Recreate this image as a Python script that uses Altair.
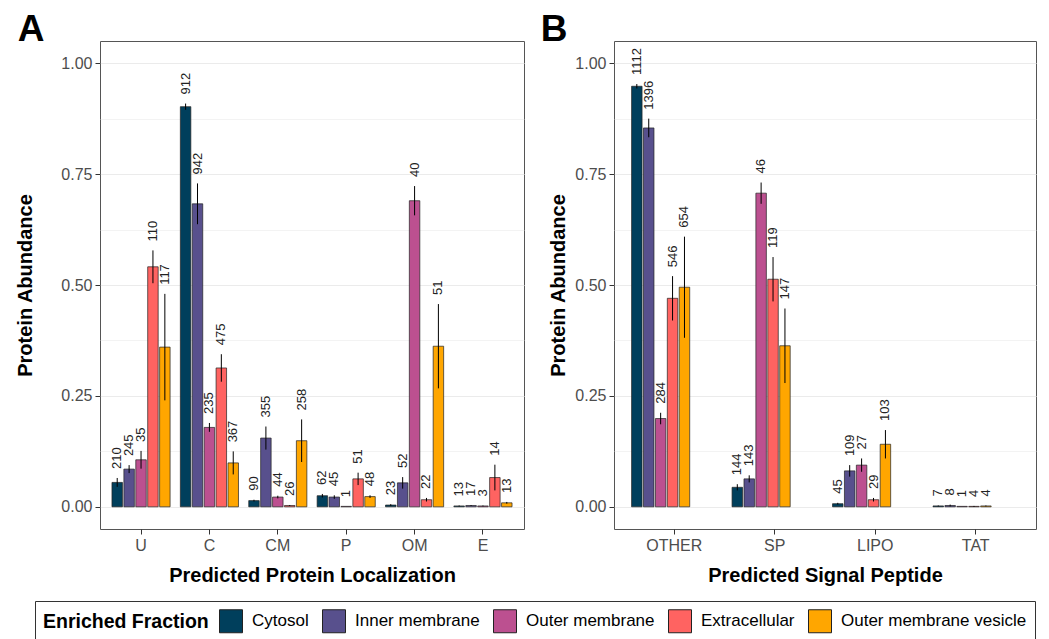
import altair as alt
import pandas as pd

fractions = ["Cytosol", "Inner membrane", "Outer membrane", "Extracellular", "Outer membrane vesicle"]
colors = ["#003f5c", "#58508d", "#bc5090", "#ff6361", "#ffa600"]

# ---- Panel A: predicted protein localization ----
loc_cats = ["U", "C", "CM", "P", "OM", "E"]
loc_cytosol = [0.055, 0.902, 0.014, 0.025, 0.004, 0.002]
loc_cytosol_err = [0.010, 0.007, 0.002, 0.004, 0.002, 0.001]
loc_inner = [0.085, 0.683, 0.155, 0.022, 0.054, 0.003]
loc_inner_err = [0.009, 0.046, 0.026, 0.004, 0.013, 0.001]
loc_outer = [0.106, 0.179, 0.022, 0.001, 0.690, 0.002]
loc_outer_err = [0.020, 0.010, 0.003, 0.000, 0.033, 0.001]
loc_extra = [0.541, 0.313, 0.003, 0.063, 0.016, 0.066]
loc_extra_err = [0.037, 0.031, 0.001, 0.014, 0.004, 0.029]
loc_omv = [0.360, 0.099, 0.149, 0.023, 0.362, 0.009]
loc_omv_err = [0.120, 0.026, 0.048, 0.003, 0.095, 0.002]
loc_n_cytosol = [210, 912, 90, 62, 23, 13]
loc_n_inner = [245, 942, 355, 45, 52, 17]
loc_n_outer = [35, 235, 44, 1, 40, 3]
loc_n_extra = [110, 475, 26, 51, 22, 14]
loc_n_omv = [117, 367, 258, 48, 51, 13]

# ---- Panel B: predicted signal peptide ----
sig_cats = ["OTHER", "SP", "LIPO", "TAT"]
sig_cytosol = [0.948, 0.044, 0.007, 0.002]
sig_cytosol_err = [0.005, 0.007, 0.002, 0.001]
sig_inner = [0.854, 0.063, 0.081, 0.003]
sig_inner_err = [0.021, 0.008, 0.013, 0.002]
sig_outer = [0.199, 0.707, 0.094, 0.001]
sig_outer_err = [0.013, 0.024, 0.015, 0.000]
sig_extra = [0.470, 0.513, 0.016, 0.001]
sig_extra_err = [0.050, 0.050, 0.004, 0.001]
sig_omv = [0.495, 0.363, 0.141, 0.002]
sig_omv_err = [0.114, 0.084, 0.032, 0.001]
sig_n_cytosol = [1112, 144, 45, 7]
sig_n_inner = [1396, 143, 109, 8]
sig_n_outer = [284, 46, 27, 1]
sig_n_extra = [546, 119, 29, 4]
sig_n_omv = [654, 147, 103, 4]

y_ticks = [0, 0.125, 0.25, 0.375, 0.5, 0.625, 0.75, 0.875, 1.0]


def build(cats, means, errs, ns):
    rows = []
    for f, m, e, n in zip(fractions, means, errs, ns):
        for c, mv, ev, nv in zip(cats, m, e, n):
            rows.append({"cat": c, "frac": f, "mean": mv, "lo": max(mv - ev, 0), "hi": mv + ev, "n": nv})
    return pd.DataFrame(rows)


df_a = build(loc_cats,
             [loc_cytosol, loc_inner, loc_outer, loc_extra, loc_omv],
             [loc_cytosol_err, loc_inner_err, loc_outer_err, loc_extra_err, loc_omv_err],
             [loc_n_cytosol, loc_n_inner, loc_n_outer, loc_n_extra, loc_n_omv])
df_b = build(sig_cats,
             [sig_cytosol, sig_inner, sig_outer, sig_extra, sig_omv],
             [sig_cytosol_err, sig_inner_err, sig_outer_err, sig_extra_err, sig_omv_err],
             [sig_n_cytosol, sig_n_inner, sig_n_outer, sig_n_extra, sig_n_omv])

minor_test = "round(datum.value * 8) % 2 == 1"
yscale = alt.Scale(domain=[-0.05, 1.05], nice=False, zero=False)


def yaxis(title_pad):
    return alt.Axis(
        title="Protein Abundance",
        values=y_ticks,
        labelExpr="round(datum.value * 8) % 2 == 1 ? '' : format(datum.value, '.2f')",
        gridWidth={"condition": {"test": minor_test, "value": 0.6}, "value": 1.2},
        tickOpacity={"condition": {"test": minor_test, "value": 0}, "value": 1},
        titlePadding=title_pad, labelPadding=3,
    )


legend = alt.Legend(
    title="Enriched Fraction", orient="none", legendX=-65, legendY=560,
    direction="horizontal", titleOrient="left",
    titleFontSize=19.5, titleFontWeight="bold", titleColor="black",
    titleBaseline="middle", titleAnchor="middle",
    labelFontSize=17, labelColor="black", labelLimit=0,
    symbolType="square", symbolSize=529,
    symbolStrokeColor="#222222", symbolStrokeWidth=1,
    strokeColor="#333333", padding=8,
    columnPadding=11, labelOffset=9, titlePadding=10,
)


def panel(df, cats, xtitle, tag, width, title_pad, tag_dx):
    base = alt.Chart(df).encode(
        x=alt.X("cat:N", sort=cats,
                scale=alt.Scale(paddingInner=0.15, paddingOuter=0.175),
                axis=alt.Axis(title=xtitle, labelAngle=0, bandPosition=0.5,
                              labelPadding=3, titlePadding=12, gridWidth=1.2)),
        xOffset=alt.XOffset("frac:N", sort=fractions, scale=alt.Scale(paddingInner=0.12)),
    )
    bars = base.mark_bar(stroke="#222222", strokeWidth=0.7).encode(
        y=alt.Y("mean:Q", scale=yscale, axis=yaxis(title_pad)),
        y2=alt.datum(0),
        color=alt.Color("frac:N", sort=fractions,
                        scale=alt.Scale(domain=fractions, range=colors),
                        legend=legend),
    )
    err = base.mark_rule(color="black", strokeWidth=1).encode(
        y=alt.Y("lo:Q", scale=yscale), y2="hi:Q")
    text = base.mark_text(angle=270, align="left", baseline="middle", dx=9,
                          fontSize=13, color="#222222").encode(
        y=alt.Y("hi:Q", scale=yscale), text="n:Q")
    return alt.layer(bars, err, text).properties(
        width=width, height=488,
        title=alt.Title(tag, anchor="start", frame="bounds", fontSize=37,
                        fontWeight="bold", color="black", offset=-8, dx=tag_dx),
    )


chart = alt.hconcat(
    panel(df_a, loc_cats, "Predicted Protein Localization", "A", 424, 25, 2),
    panel(df_b, sig_cats, "Predicted Signal Peptide", "B", 422, 6, -8),
    spacing=15,
).properties(
    padding={"left": 7, "top": 2, "right": 0, "bottom": 0},
).configure(
    font="Liberation Sans",
).configure_axis(
    labelColor="#4D4D4D", labelFontSize=16, labelFont="Liberation Sans",
    titleFontSize=20, titleFontWeight="bold", titleColor="black",
    tickColor="#333333", tickSize=5, domain=False, gridColor="#EBEBEB",
).configure_view(
    stroke="#555555", strokeWidth=1,
)

chart.save("out.html", embed_options={"renderer": "svg", "actions": False})
